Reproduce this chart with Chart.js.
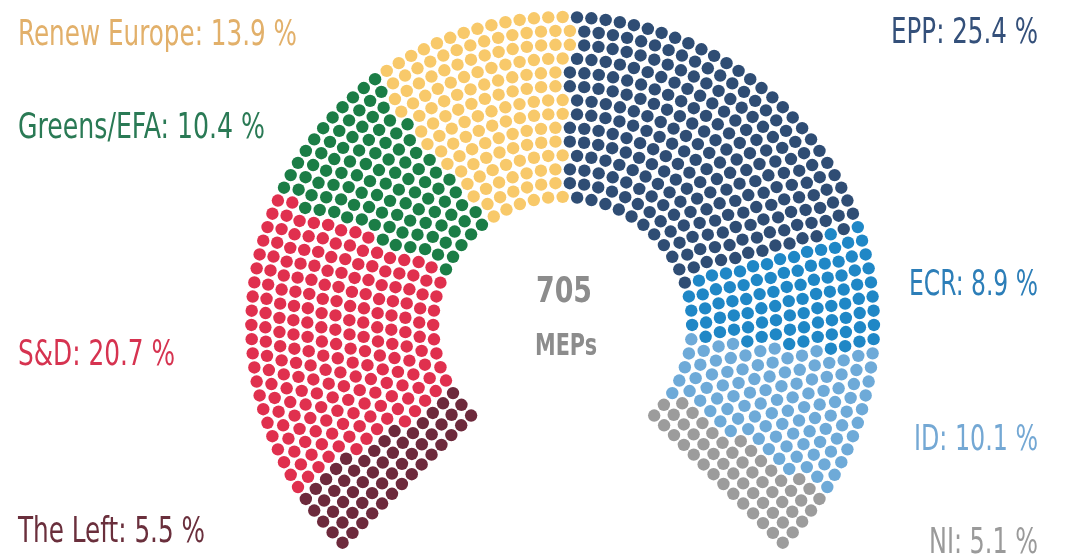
<!DOCTYPE html>
<html>
<head>
<meta charset="utf-8">
<script src="https://cdn.jsdelivr.net/npm/chart.js@4.4.1/dist/chart.umd.min.js"></script>
<style>
  html, body { margin: 0; padding: 0; background: #fff; }
  #wrap { width: 1066px; height: 557px; position: relative; }
</style>
</head>
<body>
<div id="wrap"><canvas id="seatChart"></canvas></div>
<script>
// groups, left to right round the hemicycle
const parties = ['The Left', 'S&D', 'Greens/EFA', 'Renew Europe', 'EPP', 'ECR', 'ID', 'NI']
const shares = [5.5, 20.7, 10.4, 13.9, 25.4, 8.9, 10.1, 5.1]
const totalMeps = 705

const dotColors = ['#6d2a3c', '#e0304e', '#1b7d46', '#f8c96a', '#2f4d74', '#1f87c6', '#6eaad8', '#9c9c9c']
const textColors = ['#6a2f3c', '#d63350', '#2a7a55', '#e2b06a', '#34507a', '#2c7eb8', '#74a8d4', '#9a9a9a']

// where each label sits: x, baseline, alignment, width to fit
const labelPos = {
    'The Left': [18, 542, 'left', 187],
    'S&D': [18, 365, 'left', 157],
    'Greens/EFA': [18, 138, 'left', 247],
    'Renew Europe': [18, 45, 'left', 279],
    'EPP': [1038, 43, 'right', 147],
    'ECR': [1038, 295, 'right', 129],
    'ID': [1038, 450, 'right', 124],
    'NI': [1038, 553, 'right', 109],
}

const W = 1066, H = 557
const cx = 563, cy = 326
const rows = 14
const innerRadius = 131
const rowStep = 14.15
const seatStep = 14.6
const startAngle = 225
const sweep = 270

// dot grid: concentric rows, every dot sorted by angle then handed out by share
const seats = []
for (let i = 0; i < rows; i++) {
    const r = innerRadius + i * rowStep
    const n = Math.round(r * sweep * Math.PI / 180 / seatStep) + 1
    for (let j = 0; j < n; j++) {
        seats.push({ r, a: startAngle - sweep * j / (n - 1) })
    }
}
seats.sort((p, q) => (q.a - p.a) || (p.r - q.r))

const datasets = []
let pos = 0
for (let k = 0; k < parties.length; k++) {
    let count = Math.round(shares[k] / 100 * seats.length)
    if (k === parties.length - 1) count = seats.length - pos
    const pts = seats.slice(pos, pos + count).map(s => ({
        x: cx + s.r * Math.cos(s.a * Math.PI / 180),
        y: cy - s.r * Math.sin(s.a * Math.PI / 180),
    }))
    pos += count
    datasets.push({
        label: parties[k],
        data: pts,
        backgroundColor: dotColors[k],
        borderWidth: 0,
        pointRadius: 6.2,
        pointHoverRadius: 6.2,
    })
}

const labelFont = "'Liberation Sans Narrow', 'DejaVu Sans Condensed', 'Open Sans', sans-serif"

// squeeze text sideways so it takes the narrow look of the original
function fitText(ctx, text, x, y, align, width) {
    const w = ctx.measureText(text).width
    ctx.save()
    ctx.translate(x, y)
    ctx.scale(width / w, 1)
    ctx.textAlign = align
    ctx.fillText(text, 0, 0)
    ctx.restore()
}

const textPlugin = {
    id: 'seatText',
    afterDraw(chart) {
        const ctx = chart.ctx
        ctx.save()
        ctx.textBaseline = 'alphabetic'
        parties.forEach((p, k) => {
            const [x, y, align, width] = labelPos[p]
            ctx.font = '36px ' + labelFont
            ctx.fillStyle = textColors[k]
            fitText(ctx, p + ': ' + shares[k].toFixed(1) + ' %', x, y, align, width)
        })
        ctx.fillStyle = '#8c8c8c'
        ctx.font = 'bold 35px ' + labelFont
        fitText(ctx, String(totalMeps), cx + 1, 302, 'center', 56)
        ctx.font = 'bold 31px ' + labelFont
        fitText(ctx, 'MEPs', cx + 3, 355, 'center', 62)
        ctx.restore()
    }
}

new Chart(document.getElementById('seatChart'), {
    type: 'scatter',
    data: { datasets },
    options: {
        responsive: true,
        maintainAspectRatio: false,
        animation: false,
        layout: { padding: 0 },
        scales: {
            x: { type: 'linear', min: 0, max: W, display: false },
            y: { type: 'linear', min: 0, max: H, reverse: true, display: false },
        },
        plugins: {
            legend: { display: false },
            tooltip: { enabled: false },
        },
    },
    plugins: [textPlugin],
})
</script>
</body>
</html>
